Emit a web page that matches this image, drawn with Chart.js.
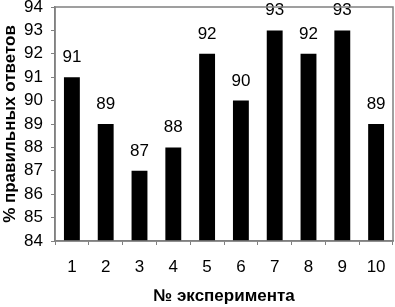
<!DOCTYPE html>
<html>
<head>
<meta charset="utf-8">
<script src="https://cdn.jsdelivr.net/npm/chart.js@4/dist/chart.umd.min.js"></script>
<style>
  html, body { margin: 0; padding: 0; background: #fff; }
  #wrap { width: 395px; height: 307px; }
</style>
</head>
<body>
<div id="wrap"><canvas id="myChart" width="395" height="307"></canvas></div>
<script>
// data
var experiments = ['1', '2', '3', '4', '5', '6', '7', '8', '9', '10'];
var correctPct = [91, 89, 87, 88, 92, 90, 93, 92, 93, 89];
var yMin = 84, yMax = 94;

var FONT = 'Arial, "Liberation Sans", sans-serif';
var GRAY = '#808080';

// value labels over bars + gray frame round plot area
var barLabels = {
    id: 'barLabels',
    afterDatasetsDraw(chart) {
        var ctx = chart.ctx;
        var meta = chart.getDatasetMeta(0);
        ctx.save();
        ctx.fillStyle = '#000';
        ctx.font = '17px ' + FONT;
        ctx.textAlign = 'center';
        ctx.textBaseline = 'alphabetic';
        meta.data.forEach(function (bar, i) {
            ctx.fillText(String(correctPct[i]), bar.x, bar.y - 15);
        });
        var a = chart.chartArea;
        ctx.strokeStyle = GRAY;
        ctx.lineWidth = 1.5;
        ctx.strokeRect(a.left, a.top, a.right - a.left, a.bottom - a.top);
        ctx.restore();
    }
};

var ctx = document.getElementById('myChart').getContext('2d');
var myChart = new Chart(ctx, {
    type: 'bar',
    data: {
        labels: experiments,
        datasets: [{
            data: correctPct,
            backgroundColor: '#000',
            borderWidth: 0,
            barPercentage: 0.47,
            categoryPercentage: 1.0
        }]
    },
    options: {
        responsive: false,
        animation: false,
        layout: { padding: { top: 7, right: 2, left: 0, bottom: 0 } },
        plugins: { legend: { display: false }, tooltip: { enabled: false } },
        scales: {
            x: {
                grid: { display: true, drawOnChartArea: false, tickLength: 4, color: GRAY },
                border: { color: GRAY, width: 1.5 },
                ticks: { color: '#000', font: { family: FONT, size: 17 }, padding: 12, maxRotation: 0, autoSkip: false },
                title: {
                    display: true, text: '№ эксперимента', color: '#000',
                    font: { family: FONT, size: 17, weight: 'bold' }, padding: { top: 4, bottom: 0 }
                },
                afterFit(s) { s.height = 66; s.paddingLeft = 0; s.paddingRight = 0; }
            },
            y: {
                min: yMin, max: yMax,
                grid: { display: true, drawOnChartArea: false, tickLength: 4, color: GRAY },
                border: { color: GRAY, width: 1.5 },
                ticks: { stepSize: 1, color: '#000', font: { family: FONT, size: 17 }, padding: 8, autoSkip: false },
                title: {
                    display: true, text: '% правильных ответов', color: '#000',
                    font: { family: FONT, size: 17, weight: 'bold' }, padding: { top: 0, bottom: 2 }
                },
                afterFit(s) { s.width = 55; s.paddingTop = 0; s.paddingBottom = 0; }
            }
        }
    },
    plugins: [barLabels]
});
</script>
</body>
</html>
